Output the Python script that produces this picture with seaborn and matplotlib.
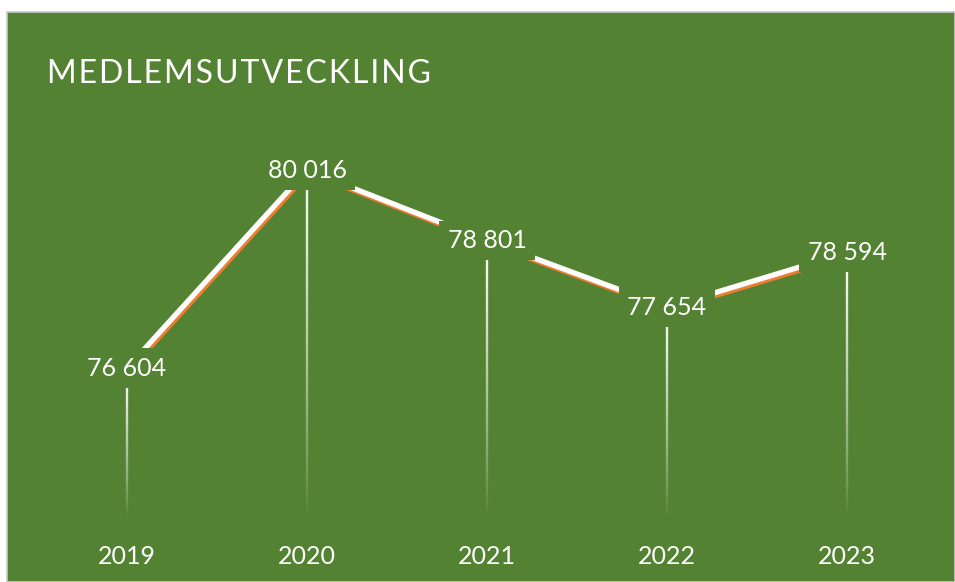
import numpy as np
import pandas as pd
import seaborn as sns
import matplotlib.pyplot as plt
import matplotlib.patheffects as pe
from matplotlib.collections import LineCollection
from matplotlib.patches import Rectangle

years = ["2019", "2020", "2021", "2022", "2023"]
members = [76604, 80016, 78801, 77654, 78594]
title = "MEDLEMSUTVECKLING"

green = "#538233"
orange = "#ED7D31"

df = pd.DataFrame({"year": years, "members": members})
df["x"] = range(len(years))

sns.set_style("white")
plt.rcParams["font.family"] = ["Lato", "DejaVu Sans"]

fig = plt.figure(figsize=(9.55, 5.82), dpi=100, facecolor="white")
# green chart area with thin grey border
fig.patches.append(Rectangle((7 / 955, 0), 948 / 955, 570 / 582, transform=fig.transFigure,
                             facecolor=green, edgecolor="#c8c8c8", linewidth=1.2, zorder=-5))

ax = fig.add_axes([37 / 955, 65 / 582, 900 / 955, 404 / 582])
ax.set_facecolor("none")
ax.set_zorder(2)
ymin, ymax = 74040, 81000
ax.set_xlim(-0.5, len(years) - 0.5)
ax.set_ylim(ymin, ymax)

# fading drop lines
n = 80
for xi, v in zip(df["x"], df["members"]):
    ys = np.linspace(v, ymin, n + 1)
    segs = [[(xi, ys[i]), (xi, ys[i + 1])] for i in range(n)]
    alphas = np.linspace(1.0, 0.0, n) ** 0.8
    cols = [(1, 1, 1, a) for a in alphas]
    ax.add_collection(LineCollection(segs, colors=cols, linewidths=1.7, zorder=1))

sns.lineplot(data=df, x="x", y="members", ax=ax, color="white", linewidth=3.8, zorder=2,
             path_effects=[pe.SimpleLineShadow(offset=(1.2, -1.8), shadow_color=orange, alpha=1),
                           pe.Normal()])

for xi, v in zip(df["x"], df["members"]):
    ax.text(xi, v, f"{v:,}".replace(",", " "), ha="center", va="center", color="white",
            fontsize=18, zorder=3,
            bbox=dict(boxstyle="square,pad=0.33", facecolor=green, edgecolor="none"))

ax.set_xticks(df["x"])
ax.set_xticklabels(years)
ax.tick_params(axis="x", length=0, pad=20, labelsize=18, labelcolor="white")
ax.set_yticks([])
ax.set_xlabel("")
ax.set_ylabel("")
for s in ax.spines.values():
    s.set_visible(False)

spaced = "\u200a".join(title)
fig.text(47 / 955, 1 - 74 / 582, spaced, color="white", fontsize=23,
         ha="left", va="center")

fig.savefig("out.png", dpi=100, facecolor="white")
